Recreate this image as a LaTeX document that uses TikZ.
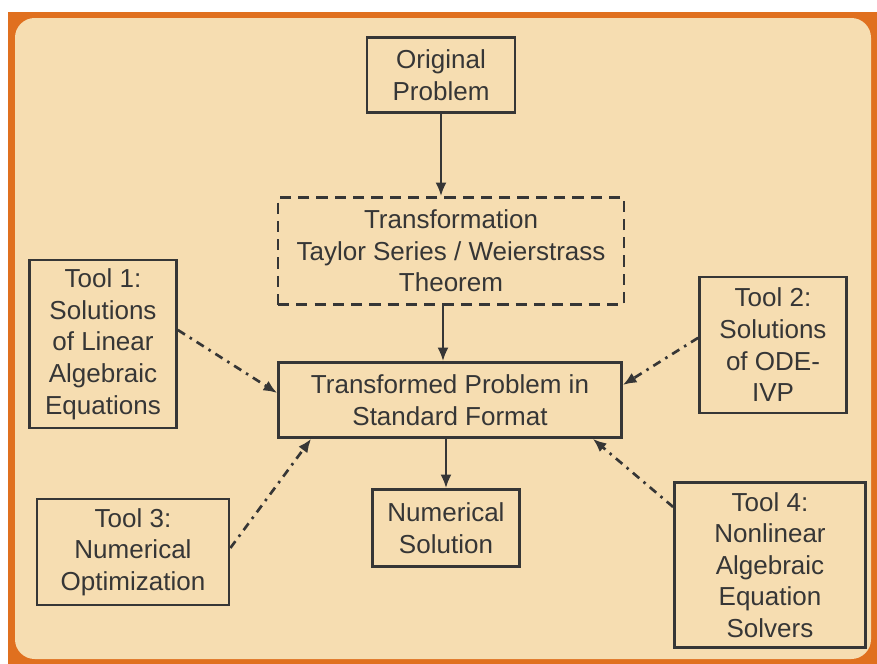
\documentclass[tikz,border=0pt]{standalone}
\usepackage{fontspec}
\setmainfont{Liberation Sans}
\usepackage{xcolor}
\usepackage{tikz}
\usetikzlibrary{arrows.meta,positioning}
\definecolor{frameorange}{HTML}{E0701F}
\definecolor{panelbeige}{HTML}{F6DDB1}
\definecolor{inkgray}{HTML}{363636}

\begin{document}
\begin{tikzpicture}[
  x=0.025cm,y=-0.025cm,
  box/.style={draw=inkgray,line width=1.9pt,align=center,text=inkgray,font=\fontsize{18.5}{22.5}\selectfont,inner sep=2pt},
  dbox/.style={box,dash pattern=on 8pt off 5pt},
  arrow/.style={-{Latex[length=3.4mm,width=2.8mm]},line width=1.9pt,draw=inkgray},
  dotarrow/.style={-{Latex[length=3.4mm,width=2.8mm]},line width=1.9pt,draw=inkgray,dash pattern=on 6pt off 4pt on 1.8pt off 4pt}
]
% frame
\fill[white] (0,0) rectangle (877,664);
\fill[frameorange] (8,12) rectangle (877,664);
\fill[panelbeige,rounded corners=14] (15,18) rectangle (871,659);
% main chain
\node[box,minimum width=3.7cm,minimum height=1.875cm] (orig) at (441,75) {Original\\Problem};
\node[dbox,minimum width=8.65cm,minimum height=2.675cm] (trans) at (451,251) {Transformation\\Taylor Series / Weierstrass\\Theorem};
\node[box,minimum width=8.575cm,minimum height=1.875cm] (std) at (450,400) {Transformed Problem in\\Standard Format};
\node[box,minimum width=3.675cm,minimum height=1.925cm] (numsol) at (446,528) {Numerical\\Solution};
% tools
\node[box,minimum width=3.675cm,minimum height=4.2cm] (tool1) at (103,344) {Tool 1:\\Solutions\\of Linear\\Algebraic\\Equations};
\node[box,minimum width=3.675cm,minimum height=3.4cm] (tool2) at (773,345) {Tool 2:\\Solutions\\of ODE-\\IVP};
\node[box,minimum width=4.8cm,minimum height=2.65cm] (tool3) at (133,552) {Tool 3:\\Numerical\\Optimization};
\node[box,minimum width=4.775cm,minimum height=4.125cm] (tool4) at (770,565) {Tool 4:\\Nonlinear\\Algebraic\\Equation\\Solvers};
\draw[arrow] (orig.south) -- (orig.south |- trans.north);
\draw[arrow] ([xshift=-0.2cm]trans.south) -- ([xshift=-0.2cm]trans.south |- std.north);
\draw[arrow] (numsol.north |- std.south) -- (numsol.north);
\draw[dotarrow] ([yshift=0.35cm]tool1.east) -- ([yshift=0.175cm]std.west);
\draw[dotarrow] ([yshift=0.18cm]tool2.west) -- ([yshift=0.375cm]std.east);
\draw[dotarrow] ([yshift=0.1cm]tool3.east) -- ([xshift=0.85cm]std.south west);
\draw[dotarrow] ([yshift=1.45cm]tool4.west) -- ([xshift=-0.75cm]std.south east);
\end{tikzpicture}
\end{document}
